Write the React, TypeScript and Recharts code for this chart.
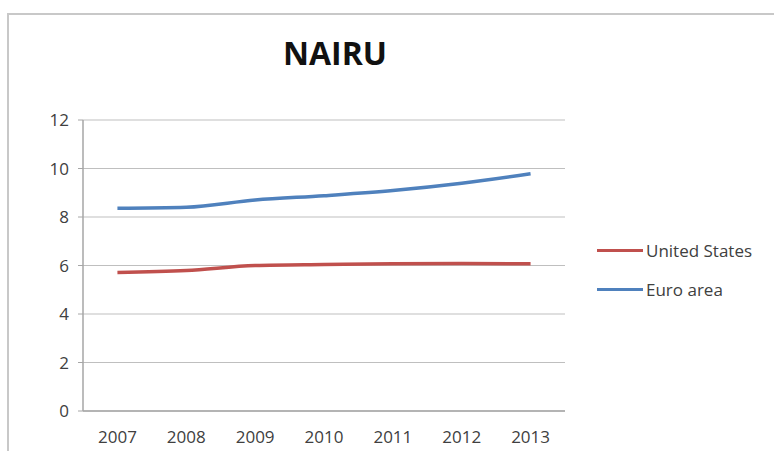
import React from 'react';
import { LineChart, Line, XAxis, YAxis, CartesianGrid, Legend } from 'recharts';

// NAIRU estimates
const years = [2007, 2008, 2009, 2010, 2011, 2012, 2013];
const unitedStates = [5.71, 5.79, 6.0, 6.04, 6.07, 6.08, 6.07];
const euroArea = [8.36, 8.4, 8.7, 8.88, 9.09, 9.39, 9.78];
const yTicks = [0, 2, 4, 6, 8, 10, 12];
const bandEdges = [2006.5, 2007.5, 2008.5, 2009.5, 2010.5, 2011.5, 2012.5, 2013.5];

const series = [
  { key: 'us', name: 'United States', color: '#c0504d' },
  { key: 'euro', name: 'Euro area', color: '#4f81bd' },
];

const data = years.map((year, i) => ({
  year,
  us: unitedStates[i],
  euro: euroArea[i],
}));

const font = '"Open Sans", "Liberation Sans", sans-serif';

// legend in series order (recharts sorts it otherwise)
function LegendBox() {
  return (
    <div style={{ fontFamily: font, fontSize: 17, color: '#404040' }}>
      {series.map((s) => (
        <div key={s.key} style={{ display: 'flex', alignItems: 'center', height: 39 }}>
          <span style={{ display: 'inline-block', width: 46, height: 3, background: s.color, marginRight: 3 }} />
          <span>{s.name}</span>
        </div>
      ))}
    </div>
  );
}

export default function App() {
  return (
    <div style={{ position: 'absolute', left: 0, top: 0, width: 774, height: 451, background: '#fff' }}>
      <div
        style={{
          position: 'absolute',
          left: 7,
          top: 13,
          right: 0,
          bottom: 0,
          borderLeft: '2px solid #c8c8c8',
          borderTop: '2px solid #c8c8c8',
        }}
      />
      <div
        style={{
          position: 'absolute',
          left: 235,
          width: 200,
          top: 31,
          textAlign: 'center',
          fontFamily: font,
          fontWeight: 700,
          fontSize: 32,
          lineHeight: '44px',
          color: '#111',
        }}
      >
        NAIRU
      </div>
      <LineChart
        width={774}
        height={451}
        data={data}
        margin={{ top: 120, right: 209, bottom: 10, left: 41 }}
        style={{ position: 'absolute', left: 0, top: 0 }}
      >
        <CartesianGrid vertical={false} stroke="#bfbfbf" strokeWidth={1.2} />
        <XAxis
          dataKey="year"
          type="number"
          domain={[2006.5, 2013.5]}
          ticks={years}
          tickLine={false}
          axisLine={{ stroke: '#a6a6a6', strokeWidth: 1.5 }}
          tick={{ fill: '#404040', fontSize: 17, fontFamily: font }}
          tickMargin={14}
          height={30}
        />
        <XAxis
          xAxisId="edges"
          dataKey="year"
          type="number"
          domain={[2006.5, 2013.5]}
          ticks={bandEdges}
          tick={false}
          tickSize={5}
          tickLine={{ stroke: '#a6a6a6' }}
          axisLine={false}
          height={0}
        />
        <YAxis
          domain={[0, 12]}
          ticks={yTicks}
          width={42}
          tickSize={5}
          tickLine={{ stroke: '#a6a6a6' }}
          axisLine={{ stroke: '#a6a6a6', strokeWidth: 1.5 }}
          tick={{ fill: '#404040', fontSize: 17, fontFamily: font }}
          tickMargin={9}
        />
        <Legend
          layout="vertical"
          align="center"
          verticalAlign="middle"
          content={<LegendBox />}
          wrapperStyle={{ left: 597, top: 231, width: 177 }}
        />
        {series.map((s) => (
          <Line
            key={s.key}
            type="monotone"
            dataKey={s.key}
            name={s.name}
            stroke={s.color}
            strokeWidth={3.5}
            dot={false}
            isAnimationActive={false}
          />
        ))}
      </LineChart>
    </div>
  );
}
